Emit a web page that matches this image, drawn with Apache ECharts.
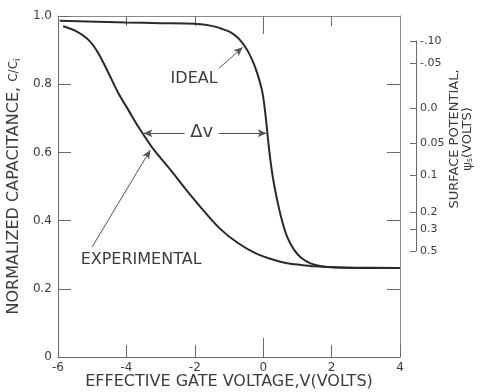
<!DOCTYPE html>
<html>
<head>
<meta charset="utf-8">
<script src="https://cdn.jsdelivr.net/npm/echarts@6/dist/echarts.min.js"></script>
<style>
  html, body { margin: 0; padding: 0; background: #fff; }
  #chart { width: 484px; height: 392px; }
</style>
</head>
<body>
<div id="chart"></div>
<script>
// C/Ci versus effective gate voltage (volts)
const idealV = [-5.95, -4, -3, -2, -1.5, -1.2, -0.95, -0.75, -0.6, -0.45, -0.3, -0.18, -0.08, -0.04, 0, 0.05, 0.1, 0.16, 0.24, 0.32, 0.42, 0.55, 0.7, 0.9, 1.1, 1.4, 1.8, 2.5, 4];
const idealC = [0.986, 0.981, 0.979, 0.977, 0.971, 0.962, 0.952, 0.937, 0.92, 0.897, 0.866, 0.834, 0.80, 0.784, 0.762, 0.725, 0.68, 0.62, 0.555, 0.505, 0.455, 0.40, 0.352, 0.315, 0.292, 0.274, 0.265, 0.262, 0.261];

const expV = [-5.85, -5.5, -5.11, -4.82, -4.52, -4.23, -3.94, -3.65, -3.25, -2.72, -2.25, -1.75, -1.25, -0.75, -0.2, 0.3, 0.7, 1.1, 1.5, 2.0, 2.5, 4];
const expC = [0.97, 0.957, 0.93, 0.891, 0.832, 0.773, 0.724, 0.675, 0.615, 0.55, 0.49, 0.43, 0.375, 0.335, 0.303, 0.285, 0.275, 0.27, 0.266, 0.263, 0.262, 0.261];

// Axis ticks
const voltTicks = [-6, -4, -2, 0, 2, 4];
const capTicks = [0, 0.2, 0.4, 0.6, 0.8, 1.0];
const capTickLabels = ['0', '0.2', '0.4', '0.6', '0.8', '1.0'];

// Surface potential scale: label and the C/Ci level it sits at
const psiLabels = ['-.10', '-.05', '0.0', '0.05', '0.1', '0.2', '0.3', '0.5'];
const psiAtC = [0.927, 0.862, 0.73, 0.628, 0.534, 0.425, 0.375, 0.311];

const ink = '#2a2a2a';
const frame = '#6a6a6a';
const textCol = '#3c3c3c';
const font = 'DejaVu Sans';

const pair = (a, b) => a.map((v, i) => [v, b[i]]);

const chart = echarts.init(document.getElementById('chart'), null, { renderer: 'canvas' });

const plotBox = () => ({ left: 58, right: 84, top: 16, bottom: 35, containLabel: false, outerBoundsMode: 'none' });

const arrowLine = { color: '#555', width: 1, type: 'solid' };
const arrow = (from, to) => [
  { coord: from, symbol: 'none' },
  { coord: to, symbol: 'arrow', symbolSize: [6, 9] }
];
const note = (coord, text, size) => ({
  coord: coord,
  symbol: 'circle',
  symbolSize: 1,
  itemStyle: { color: 'rgba(0,0,0,0)' },
  label: {
    show: true, position: 'inside', formatter: text,
    color: textCol, fontFamily: font, fontSize: size
  }
});

chart.setOption({
  animation: false,
  backgroundColor: '#fff',
  grid: [
    plotBox(),
    { left: 300, right: 68, top: 41, height: 210, containLabel: false, outerBoundsMode: 'none' },
    plotBox()
  ],
  xAxis: [
    {
      gridIndex: 0, type: 'value', position: 'bottom',
      min: voltTicks[0], max: voltTicks[voltTicks.length - 1], interval: 2,
      axisLine: { show: true, onZero: false, lineStyle: { color: frame, width: 1 } },
      axisTick: { show: true, inside: true, length: 12, lineStyle: { color: frame } },
      splitLine: { show: false },
      axisLabel: { color: textCol, fontFamily: font, fontSize: 12, margin: 5 },
      name: 'EFFECTIVE GATE VOLTAGE,V(VOLTS)',
      nameLocation: 'middle', nameGap: 17, nameMoveOverlap: false,
      nameTextStyle: { color: textCol, fontFamily: font, fontSize: 16 }
    },
    {
      gridIndex: 0, type: 'value', position: 'top',
      min: voltTicks[0], max: voltTicks[voltTicks.length - 1], interval: 2,
      axisLine: { show: true, onZero: false, lineStyle: { color: '#8a8a8a', width: 1 } },
      axisTick: { show: true, inside: true, length: 10, customValues: [-4, -2, 2], lineStyle: { color: frame } },
      splitLine: { show: false },
      axisLabel: { show: false }
    },
    {
      gridIndex: 1, type: 'value', show: false, min: 0, max: 1,
      axisLine: { onZero: false }
    },
    {
      gridIndex: 2, type: 'value', position: 'bottom',
      min: voltTicks[0], max: voltTicks[voltTicks.length - 1],
      axisLine: { show: false, onZero: false },
      axisTick: { show: true, inside: true, length: 19, customValues: [0], lineStyle: { color: frame } },
      splitLine: { show: false },
      axisLabel: { show: false }
    },
    {
      gridIndex: 2, type: 'value', position: 'top',
      min: voltTicks[0], max: voltTicks[voltTicks.length - 1],
      axisLine: { show: false, onZero: false },
      axisTick: { show: true, inside: true, length: 18, customValues: [0], lineStyle: { color: frame } },
      splitLine: { show: false },
      axisLabel: { show: false }
    }
  ],
  yAxis: [
    {
      gridIndex: 0, type: 'value', position: 'left',
      min: capTicks[0], max: capTicks[capTicks.length - 1], interval: 0.2,
      axisLine: { show: true, onZero: false, lineStyle: { color: frame, width: 1 } },
      axisTick: { show: true, inside: true, length: 13, lineStyle: { color: frame } },
      splitLine: { show: false },
      axisLabel: {
        color: textCol, fontFamily: font, fontSize: 12, margin: 6,
        formatter: v => capTickLabels[capTicks.findIndex(t => Math.abs(t - v) < 1e-6)]
      },
      name: 'NORMALIZED CAPACITANCE, {sm|C/C}{sub|i}',
      nameLocation: 'middle', nameGap: 34, nameRotate: 90,
      nameTextStyle: {
        color: textCol, fontFamily: font, fontSize: 16,
        rich: {
          sm: { color: textCol, fontFamily: font, fontSize: 12 },
          sub: { color: textCol, fontFamily: font, fontSize: 9, verticalAlign: 'bottom' }
        }
      }
    },
    {
      gridIndex: 0, type: 'value', position: 'right',
      min: capTicks[0], max: capTicks[capTicks.length - 1], interval: 0.2,
      axisLine: { show: true, onZero: false, lineStyle: { color: '#8a8a8a', width: 1 } },
      axisTick: { show: true, inside: true, length: 13, customValues: [0.2, 0.4, 0.6, 0.8], lineStyle: { color: frame } },
      splitLine: { show: false },
      axisLabel: { show: false }
    },
    {
      gridIndex: 1, type: 'value', position: 'right',
      min: Math.min(...psiAtC), max: Math.max(...psiAtC),
      axisLine: { show: true, onZero: false, lineStyle: { color: frame, width: 1 } },
      axisTick: { show: true, inside: true, length: 6, customValues: psiAtC, lineStyle: { color: frame } },
      splitLine: { show: false },
      axisLabel: {
        customValues: psiAtC, margin: 4,
        color: textCol, fontFamily: font, fontSize: 11,
        formatter: v => psiLabels[psiAtC.findIndex(t => Math.abs(t - v) < 1e-6)]
      },
      name: 'SURFACE POTENTIAL,\n{psi|ψ}{sub|s}(VOLTS)',
      nameLocation: 'middle', nameGap: 25, nameRotate: 90,
      nameTextStyle: {
        color: textCol, fontFamily: font, fontSize: 13, lineHeight: 13,
        padding: [0, 0, 0, 14],
        rich: {
          psi: { color: textCol, fontFamily: font, fontSize: 13 },
          sub: { color: textCol, fontFamily: font, fontSize: 8, verticalAlign: 'bottom' }
        }
      }
    },
    {
      gridIndex: 2, type: 'value', show: false, min: 0, max: 1,
      axisLine: { onZero: false }
    }
  ],
  series: [
    {
      name: 'IDEAL', type: 'line', xAxisIndex: 0, yAxisIndex: 0,
      data: pair(idealV, idealC),
      smooth: 0.3, showSymbol: false,
      lineStyle: { color: ink, width: 2 },
      markLine: {
        silent: true, animation: false,
        lineStyle: arrowLine, label: { show: false },
        data: [
          arrow([-1.29, 0.847], [-0.6, 0.908]),
          arrow([-2.3, 0.656], [-3.5, 0.656]),
          arrow([-1.3, 0.656], [0.1, 0.656])
        ]
      },
      markPoint: {
        silent: true, animation: false,
        data: [
          note([-2.02, 0.815], 'IDEAL', 16),
          note([-1.8, 0.66], 'Δv', 18)
        ]
      }
    },
    {
      name: 'EXPERIMENTAL', type: 'line', xAxisIndex: 0, yAxisIndex: 0,
      data: pair(expV, expC),
      smooth: 0.3, showSymbol: false,
      lineStyle: { color: ink, width: 2 },
      markLine: {
        silent: true, animation: false,
        lineStyle: arrowLine, label: { show: false },
        data: [
          arrow([-5.0, 0.323], [-3.3, 0.607])
        ]
      },
      markPoint: {
        silent: true, animation: false,
        data: [
          note([-3.57, 0.284], 'EXPERIMENTAL', 16)
        ]
      }
    }
  ]
});
</script>
</body>
</html>
